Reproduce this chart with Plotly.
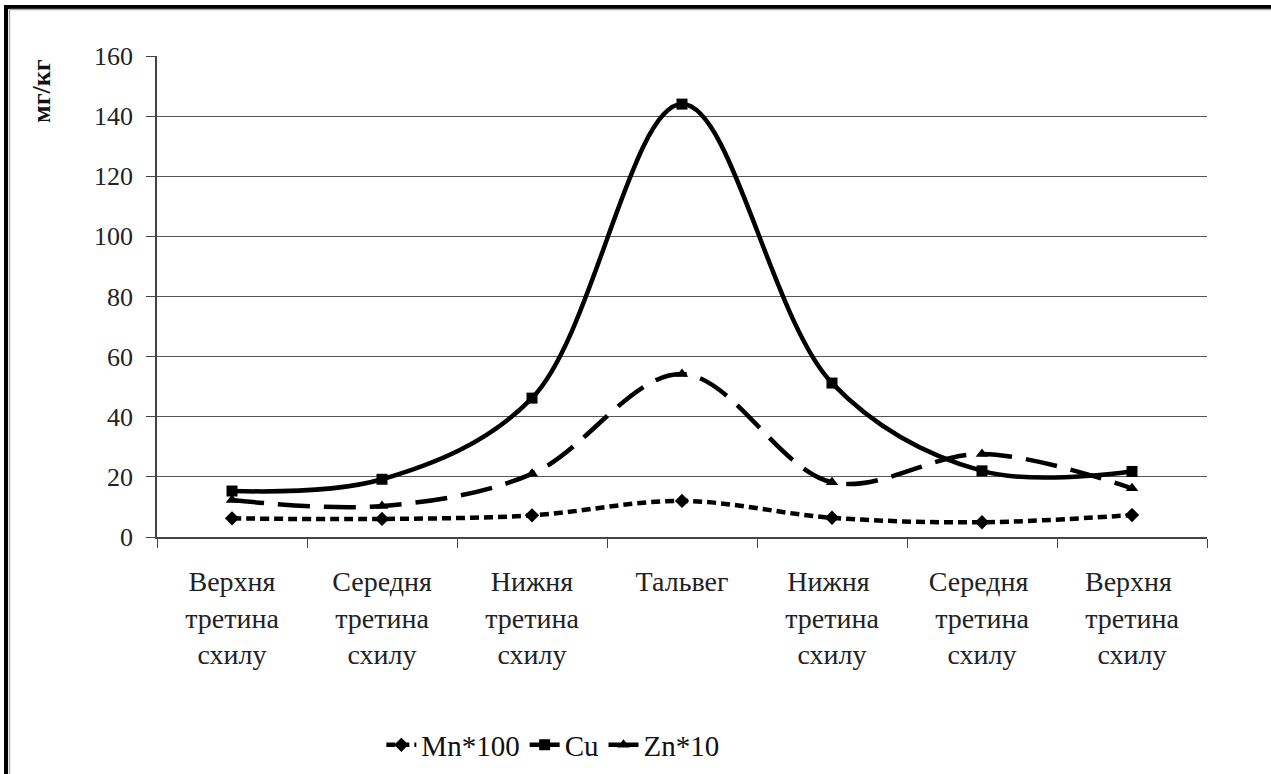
import plotly.graph_objects as go

categories = [
    "Верхня<br>третина<br>схилу",
    "Середня<br>третина<br>схилу",
    "Нижня<br>третина<br>схилу",
    "Тальвег",
    "Нижня <br>третина<br>схилу",
    "Середня <br>третина<br>схилу",
    "Верхня <br>третина<br>схилу",
]
mn100 = [6.2, 6.0, 7.2, 12.0, 6.4, 4.9, 7.3]
cu = [15.3, 19.2, 46.2, 144.0, 51.2, 22.0, 21.8]
zn10 = [12.3, 10.3, 21.0, 54.2, 18.2, 27.6, 16.2]

tick_vals = [0, 20, 40, 60, 80, 100, 120, 140, 160]

FONT = "Liberation Serif, Times New Roman, serif"

fig = go.Figure()
fig.add_trace(go.Scatter(
    x=categories, y=mn100, name="Mn*100", mode="lines+markers",
    line=dict(color="black", width=4.5, dash="9px,5px", shape="spline", smoothing=1.0),
    marker=dict(symbol="diamond", size=11, color="black"),
))
fig.add_trace(go.Scatter(
    x=categories, y=cu, name="Cu", mode="lines+markers",
    line=dict(color="black", width=4.5, shape="spline", smoothing=1.0),
    marker=dict(symbol="square", size=11, color="black"),
))
fig.add_trace(go.Scatter(
    x=categories, y=zn10, name="Zn*10", mode="lines+markers",
    line=dict(color="black", width=4.5, dash="32px,14px", shape="spline", smoothing=1.0),
    marker=dict(symbol="triangle-up", size=11, color="black"),
))

L, R, T, B = 157, 64, 56, 237
W, H = 1271, 774
pw = W - L - R
ph = H - T - B

def px_x(p):
    return (p - L) / pw

def px_y(p):
    return (H - B - p) / ph

fig.update_layout(
    width=W, height=H,
    margin=dict(l=L, r=R, t=T, b=B, autoexpand=False),
    paper_bgcolor="white", plot_bgcolor="white",
    font=dict(family=FONT, size=25, color="#222"),
    showlegend=True,
    legend=dict(orientation="h", x=0.377, xanchor="center", y=px_y(745), yanchor="middle",
                font=dict(family=FONT, size=29, color="#111"),
                tracegroupgap=0),
    xaxis=dict(
        type="category", tickson="boundaries", ticks="outside", ticklen=9,
        tickcolor="#444", showline=True, linecolor="#444", linewidth=1.5,
        showgrid=False, tickfont=dict(family=FONT, size=28, color="#222"),
        ticklabelstandoff=19,
        range=[-0.5, 6.5], fixedrange=True,
    ),
    yaxis=dict(
        range=[0, 160], tickvals=tick_vals, ticks="outside", ticklen=9,
        tickcolor="#444", showline=True, linecolor="#444", linewidth=1.5,
        showgrid=True, gridcolor="#555", gridwidth=1.2, zeroline=False,
        tickfont=dict(family=FONT, size=26, color="#222"),
        ticklabelstandoff=8,
    ),
    annotations=[dict(
        text="<b>мг/кг</b>", textangle=-90, xref="paper", yref="paper",
        x=px_x(42), y=px_y(91), xanchor="center", yanchor="middle", showarrow=False,
        font=dict(family=FONT, size=26, color="#111"),
    )],
    shapes=[
        dict(type="line", xref="paper", yref="paper", x0=px_x(6), x1=px_x(6),
             y0=px_y(5), y1=px_y(780), line=dict(color="black", width=4)),
        dict(type="line", xref="paper", yref="paper", x0=px_x(9.5), x1=px_x(9.5),
             y0=px_y(9), y1=px_y(780), line=dict(color="#aaa", width=1.5)),
        dict(type="line", xref="paper", yref="paper", x0=px_x(4), x1=px_x(1280),
             y0=px_y(7), y1=px_y(7), line=dict(color="black", width=4)),
        dict(type="line", xref="paper", yref="paper", x0=px_x(9), x1=px_x(1280),
             y0=px_y(9.5), y1=px_y(9.5), line=dict(color="#aaa", width=1.5)),
    ],
)

fig.write_html("out.html", config={"displayModeBar": False},
               post_script="document.body.style.margin='0';")
